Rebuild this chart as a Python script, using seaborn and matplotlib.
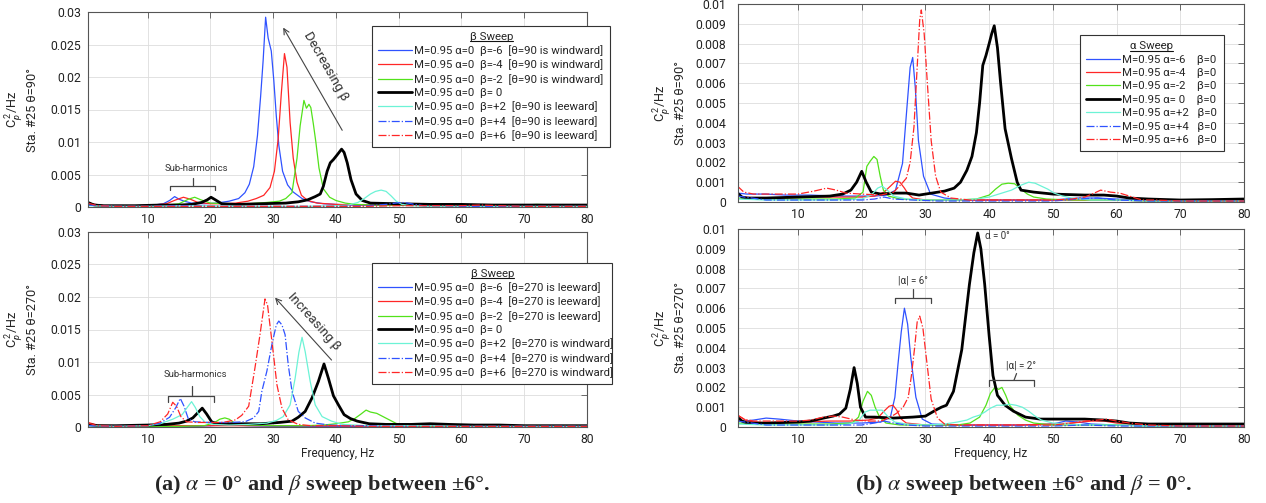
import matplotlib
matplotlib.use("Agg")
import matplotlib.pyplot as plt
from matplotlib.lines import Line2D
import seaborn as sns

# ---------------- DATA (values in units of 1e-3 Cp^2/Hz) ----------------
# Panel (a) top : theta = 90, beta sweep
a90_bm6_f = [0.5, 3, 8, 11, 12.5, 13.5, 14.3, 15.0, 15.8, 17, 19, 21, 23, 24.5, 25.5, 26.2, 26.9, 27.5, 28.0, 28.4, 28.8, 29.2, 29.7, 30.1, 30.5, 30.9, 31.5, 32.3, 33.2, 34.6, 36, 38, 42, 46, 50, 55, 60, 65, 70, 75, 80]
a90_bm6_v = [0.5, 0.2, 0.2, 0.3, 0.5, 1.0, 1.6, 1.2, 0.9, 0.6, 0.5, 0.6, 0.9, 1.3, 2.2, 3.5, 6.2, 11.0, 17.0, 22.5, 29.2, 26.0, 24.0, 19.5, 14.0, 9.5, 5.5, 3.4, 2.3, 1.3, 0.8, 0.5, 0.3, 0.3, 0.3, 0.2, 0.2, 0.2, 0.2, 0.2, 0.2]
a90_bm4_f = [0.5, 3, 8, 11, 13, 14.5, 15.7, 16.8, 18, 20, 22, 24, 26, 27.3, 28.5, 29.5, 30.2, 30.8, 31.3, 31.8, 32.2, 32.7, 33.2, 33.8, 34.5, 35.5, 37, 40, 45, 50, 55, 60, 65, 70, 75, 80]
a90_bm4_v = [0.6, 0.2, 0.2, 0.3, 0.5, 1.1, 1.5, 1.2, 0.7, 0.5, 0.5, 0.6, 0.9, 1.3, 1.8, 3.0, 5.5, 10.5, 17.5, 23.6, 21.5, 13.0, 7.5, 3.8, 1.8, 1.0, 0.6, 0.4, 0.3, 0.3, 0.3, 0.3, 0.3, 0.2, 0.2, 0.2]
a90_bm2_f = [0.5, 3, 8, 12, 15, 16.5, 17.5, 18.5, 20, 23, 26, 29, 31, 32, 33, 33.8, 34.3, 34.9, 35.3, 35.7, 36.0, 36.4, 36.8, 37.3, 38.0, 39.0, 40.0, 41.5, 43, 46, 50, 55, 60, 65, 70, 72, 75, 80]
a90_bm2_v = [0.3, 0.2, 0.2, 0.2, 0.5, 1.2, 1.5, 1.1, 0.6, 0.5, 0.5, 0.7, 0.9, 1.3, 2.2, 7.5, 12.5, 16.4, 15.2, 15.8, 15.3, 12.8, 10.0, 6.0, 2.8, 1.5, 1.0, 0.6, 0.4, 0.3, 0.3, 0.3, 0.3, 0.3, 0.3, 0.4, 0.3, 0.2]
a90_b0_f = [0.5, 1.5, 3, 8, 12, 15, 17, 18.6, 19.5, 20.1, 20.8, 21.8, 24, 28, 32, 34, 35.5, 36.7, 37.5, 38.0, 38.6, 39.1, 39.6, 40.1, 40.5, 40.9, 41.3, 41.8, 42.4, 43.2, 44.2, 45.5, 50, 55, 60, 65, 70, 75, 80]
a90_b0_v = [0.7, 0.3, 0.2, 0.2, 0.3, 0.3, 0.4, 0.7, 1.1, 1.5, 1.1, 0.5, 0.4, 0.5, 0.6, 0.8, 1.1, 1.6, 2.0, 3.2, 5.5, 6.8, 7.3, 7.9, 8.4, 8.9, 8.4, 6.8, 4.2, 2.0, 1.0, 0.6, 0.5, 0.4, 0.4, 0.3, 0.3, 0.3, 0.3]
a90_bp2_f = [0.5, 5, 10, 15, 20, 25, 30, 35, 40, 42, 43.5, 44.5, 45.5, 46.3, 47.2, 48.0, 48.8, 49.6, 50.5, 52, 55, 60, 65, 70, 75, 80]
a90_bp2_v = [0.2, 0.1, 0.1, 0.2, 0.2, 0.1, 0.1, 0.1, 0.2, 0.3, 0.7, 1.3, 2.0, 2.4, 2.6, 2.4, 1.7, 0.9, 0.4, 0.2, 0.1, 0.1, 0.1, 0.1, 0.1, 0.1]
a90_bp4_f = [0.5, 5, 10, 15, 20, 25, 30, 35, 40, 45, 48, 49.5, 50.5, 51.5, 52.5, 54, 57, 60, 65, 70, 75, 80]
a90_bp4_v = [0.3, 0.1, 0.1, 0.2, 0.1, 0.1, 0.1, 0.1, 0.1, 0.2, 0.4, 0.6, 0.7, 0.6, 0.4, 0.2, 0.2, 0.1, 0.1, 0.1, 0.1, 0.1]
a90_bp6_f = [0.5, 2, 5, 10, 15, 20, 25, 30, 35, 40, 45, 50, 55, 60, 63, 66, 70, 75, 80]
a90_bp6_v = [0.6, 0.2, 0.1, 0.1, 0.1, 0.1, 0.1, 0.1, 0.1, 0.1, 0.1, 0.2, 0.2, 0.2, 0.3, 0.2, 0.1, 0.1, 0.1]

# Panel (a) bottom : theta = 270, beta sweep
a270_bm6_f = [0.5, 5, 10, 15, 18, 20, 22, 24, 26, 30, 35, 40, 45, 50, 55, 60, 65, 70, 75, 80]
a270_bm6_v = [0.3, 0.1, 0.1, 0.1, 0.1, 0.2, 0.3, 0.3, 0.2, 0.1, 0.1, 0.1, 0.1, 0.1, 0.1, 0.1, 0.1, 0.1, 0.1, 0.1]
a270_bm4_f = [0.5, 2, 5, 10, 15, 20, 25, 30, 35, 40, 45, 50, 53, 56, 60, 65, 70, 75, 80]
a270_bm4_v = [0.7, 0.3, 0.2, 0.2, 0.2, 0.2, 0.2, 0.2, 0.2, 0.2, 0.2, 0.2, 0.3, 0.3, 0.2, 0.2, 0.2, 0.2, 0.2]
a270_bm2_f = [0.5, 5, 10, 15, 19, 20.5, 21.5, 22.3, 23, 24, 26, 30, 35, 38, 40, 42, 43, 44, 44.8, 45.5, 46.5, 47.5, 48.5, 49.5, 50.5, 55, 60, 65, 70, 75, 80]
a270_bm2_v = [0.2, 0.1, 0.1, 0.1, 0.2, 0.6, 1.2, 1.4, 1.2, 0.5, 0.3, 0.2, 0.2, 0.3, 0.5, 0.8, 1.3, 2.0, 2.6, 2.3, 2.1, 1.6, 1.1, 0.6, 0.2, 0.1, 0.1, 0.1, 0.1, 0.1, 0.1]
a270_b0_f = [0.5, 2, 5, 10, 13, 15, 16.2, 17.2, 18.0, 18.7, 19.4, 20.2, 21, 24, 28, 31, 33, 34, 35.1, 36.2, 37.2, 38.1, 38.8, 39.6, 40.4, 41.3, 42.3, 43.4, 45.3, 48, 52, 55, 58, 62, 66, 70, 75, 80]
a270_b0_v = [0.4, 0.2, 0.2, 0.3, 0.4, 0.6, 0.9, 1.4, 2.2, 2.9, 2.0, 0.8, 0.5, 0.5, 0.5, 0.7, 0.9, 1.5, 2.4, 4.5, 7.0, 9.7, 7.5, 4.8, 3.4, 1.9, 1.3, 0.9, 0.5, 0.4, 0.4, 0.5, 0.4, 0.3, 0.3, 0.2, 0.2, 0.2]
a270_bp2_f = [0.5, 5, 10, 12, 14, 15.5, 16.3, 17.0, 17.6, 18.3, 19.2, 20.5, 23, 26, 29, 30.5, 31.6, 32.7, 33.5, 34.1, 34.6, 35.1, 35.9, 36.7, 37.8, 39.3, 41, 45, 50, 55, 60, 65, 70, 75, 80]
a270_bp2_v = [0.2, 0.1, 0.2, 0.5, 1.2, 1.9, 3.0, 3.9, 3.0, 1.6, 0.7, 0.4, 0.3, 0.4, 0.6, 1.0, 1.6, 3.4, 7.5, 11.5, 13.8, 11.6, 7.0, 3.4, 1.6, 0.9, 0.4, 0.2, 0.2, 0.2, 0.1, 0.1, 0.1, 0.1, 0.1]
a270_bp4_f = [0.5, 5, 10, 12, 13.5, 14.5, 15.2, 15.8, 16.5, 17.5, 20, 23, 25.5, 26.9, 27.7, 28.2, 29.0, 29.8, 30.5, 30.9, 31.4, 31.9, 32.4, 33.0, 34.0, 35.1, 36.7, 39, 42, 45, 50, 55, 60, 65, 70, 75, 80]
a270_bp4_v = [0.2, 0.1, 0.2, 0.6, 1.5, 3.0, 4.4, 3.2, 1.2, 0.8, 0.7, 0.7, 0.8, 1.4, 2.4, 5.5, 8.6, 12.7, 15.7, 16.3, 15.7, 14.2, 9.6, 5.5, 2.4, 1.4, 0.6, 0.3, 0.2, 0.2, 0.1, 0.1, 0.1, 0.1, 0.1, 0.1, 0.1]
a270_bp6_f = [0.5, 2, 5, 10, 12, 13.2, 14.0, 14.6, 15.3, 16.2, 18, 20, 22, 24, 25, 26.1, 27.1, 27.9, 28.7, 29.1, 29.8, 30.6, 31.4, 32.4, 34.0, 36, 40, 45, 50, 55, 60, 65, 70, 75, 80]
a270_bp6_v = [0.6, 0.2, 0.1, 0.2, 0.8, 2.0, 3.8, 3.2, 1.6, 0.8, 0.7, 0.7, 0.7, 1.1, 1.8, 3.2, 9.1, 14.2, 19.7, 18.8, 13.2, 6.5, 2.9, 1.1, 0.4, 0.2, 0.2, 0.1, 0.1, 0.1, 0.1, 0.1, 0.1, 0.1, 0.1]

# Panel (b) top : theta = 90, alpha sweep
b90_am6_f = [0.5, 2, 5, 8, 12, 16, 20, 22, 24, 25.3, 26.4, 27.1, 27.6, 28.0, 28.4, 28.9, 29.7, 30.8, 33, 36, 40, 45, 50, 54, 57, 60, 63, 66, 70, 75, 80]
b90_am6_v = [0.45, 0.4, 0.4, 0.35, 0.35, 0.3, 0.3, 0.3, 0.35, 0.6, 1.95, 4.8, 6.8, 7.3, 5.8, 3.1, 1.3, 0.4, 0.2, 0.1, 0.1, 0.1, 0.1, 0.2, 0.2, 0.15, 0.1, 0.05, 0.05, 0.05, 0.05]
b90_am4_f = [0.5, 3, 8, 12, 16, 20, 22, 23.5, 24.5, 25.3, 26.0, 26.7, 27.3, 28, 30, 35, 40, 45, 50, 55, 60, 65, 70, 75, 80]
b90_am4_v = [0.3, 0.2, 0.2, 0.25, 0.25, 0.25, 0.3, 0.5, 0.8, 1.05, 1.0, 0.7, 0.4, 0.2, 0.1, 0.1, 0.1, 0.1, 0.1, 0.1, 0.1, 0.05, 0.05, 0.05, 0.05]
b90_am2_f = [0.5, 3, 8, 12, 16, 19, 20.2, 20.8, 21.3, 21.9, 22.4, 22.9, 23.4, 24.2, 26, 30, 35, 38, 40, 41, 42, 43, 44, 45, 46, 47, 49, 53, 60, 65, 70, 75, 80]
b90_am2_v = [0.2, 0.15, 0.15, 0.15, 0.15, 0.2, 0.5, 1.8, 2.05, 2.3, 2.15, 1.3, 0.6, 0.3, 0.15, 0.1, 0.1, 0.15, 0.35, 0.65, 0.9, 0.95, 0.92, 0.65, 0.4, 0.25, 0.15, 0.1, 0.1, 0.05, 0.05, 0.05, 0.05]
b90_a0_f = [0.5, 1.2, 2, 5, 10, 15, 17, 18.3, 19.2, 20.0, 20.7, 21.5, 23, 25, 27, 29, 31, 33, 34.5, 35.5, 36.5, 37.3, 38.0, 38.5, 39.0, 39.5, 40.0, 40.4, 40.8, 41.3, 41.8, 42.5, 43.5, 44.4, 45.0, 47, 50, 55, 58, 60, 62, 65, 70, 75, 80]
b90_a0_v = [0.45, 0.25, 0.2, 0.2, 0.25, 0.3, 0.4, 0.6, 1.0, 1.55, 1.0, 0.5, 0.4, 0.45, 0.45, 0.35, 0.45, 0.55, 0.7, 1.0, 1.6, 2.3, 3.5, 5.0, 6.9, 7.4, 8.0, 8.5, 8.9, 7.8, 6.0, 3.7, 2.2, 1.0, 0.6, 0.5, 0.4, 0.35, 0.35, 0.3, 0.2, 0.15, 0.1, 0.12, 0.15]
b90_ap2_f = [0.5, 5, 10, 15, 20, 21.5, 22.5, 23.2, 24, 25, 27, 30, 35, 38, 40, 42, 43.5, 45, 46.2, 47.2, 48.2, 49.2, 50.2, 51.5, 53, 56, 60, 65, 70, 75, 80]
b90_ap2_v = [0.15, 0.1, 0.1, 0.1, 0.15, 0.35, 0.7, 0.8, 0.6, 0.3, 0.15, 0.1, 0.1, 0.15, 0.25, 0.45, 0.6, 0.85, 1.0, 0.95, 0.8, 0.65, 0.45, 0.3, 0.2, 0.1, 0.1, 0.05, 0.05, 0.05, 0.05]
b90_ap4_f = [0.5, 5, 10, 15, 20, 22, 23.5, 25, 28, 32, 40, 50, 54, 57, 60, 65, 70, 75, 80]
b90_ap4_v = [0.3, 0.1, 0.1, 0.1, 0.1, 0.15, 0.25, 0.15, 0.1, 0.05, 0.05, 0.05, 0.15, 0.2, 0.1, 0.05, 0.05, 0.05, 0.05]
b90_ap6_f = [0.5, 1.5, 3, 6, 10, 12.5, 14.5, 16, 17.5, 20, 23, 25, 26.2, 27.0, 27.6, 28.2, 28.7, 29.1, 29.35, 29.8, 30.3, 30.9, 31.6, 32.4, 34, 37, 40, 45, 50, 53, 55, 56.5, 57.5, 59, 60.5, 62, 64, 66, 70, 75, 80]
b90_ap6_v = [0.8, 0.5, 0.4, 0.4, 0.4, 0.55, 0.7, 0.6, 0.45, 0.4, 0.35, 0.5, 0.9, 1.2, 2.0, 3.8, 6.8, 9.2, 9.7, 8.5, 6.0, 3.1, 1.3, 0.5, 0.2, 0.1, 0.1, 0.1, 0.1, 0.15, 0.25, 0.45, 0.6, 0.5, 0.45, 0.3, 0.1, 0.1, 0.05, 0.05, 0.05]

# Panel (b) bottom : theta = 270, alpha sweep
b270_am6_f = [0.5, 1.5, 3, 5, 7, 10, 13, 16, 20, 23, 24.5, 25.2, 25.7, 26.2, 26.7, 27.2, 27.7, 28.5, 29.5, 31, 35, 40, 45, 50, 52, 54, 56, 60, 65, 70, 75, 80]
b270_am6_v = [0.4, 0.3, 0.35, 0.45, 0.4, 0.3, 0.25, 0.2, 0.2, 0.25, 0.5, 1.5, 3.2, 4.8, 6.0, 5.2, 3.5, 1.5, 0.4, 0.15, 0.1, 0.1, 0.1, 0.15, 0.3, 0.25, 0.15, 0.1, 0.05, 0.05, 0.05, 0.05]
b270_am4_f = [0.5, 2, 5, 10, 15, 18, 21, 22.5, 23.5, 24.3, 24.9, 25.5, 26.2, 27, 30, 35, 40, 45, 50, 53, 56, 58, 60, 65, 70, 75, 80]
b270_am4_v = [0.6, 0.3, 0.2, 0.25, 0.3, 0.3, 0.35, 0.45, 0.8, 1.05, 1.1, 0.85, 0.4, 0.2, 0.1, 0.1, 0.1, 0.1, 0.15, 0.2, 0.3, 0.3, 0.2, 0.1, 0.05, 0.05, 0.05]
b270_am2_f = [0.5, 5, 10, 15, 18.5, 19.5, 20.2, 20.9, 21.5, 22.1, 22.8, 23.8, 26, 30, 35, 37, 38.5, 39.5, 40.2, 40.9, 41.5, 42.0, 42.6, 43.2, 44.5, 45.7, 47, 50, 55, 60, 65, 70, 75, 80]
b270_am2_v = [0.2, 0.15, 0.15, 0.15, 0.2, 0.5, 1.3, 1.8, 1.6, 1.0, 0.5, 0.2, 0.1, 0.1, 0.1, 0.2, 0.5, 1.1, 1.7, 2.0, 1.9, 2.0, 1.6, 1.1, 0.6, 0.35, 0.2, 0.1, 0.1, 0.1, 0.05, 0.05, 0.05, 0.05]
b270_a0_f = [0.5, 1.2, 2, 5, 10, 12, 14, 15.5, 16.5, 17.5, 18.2, 18.8, 19.3, 19.8, 20.6, 22, 25, 28, 30, 31.6, 32.5, 33.3, 34.4, 35.7, 36.9, 37.6, 38.2, 38.7, 39.3, 40.0, 40.6, 41.3, 42.5, 43.8, 45.7, 48, 52, 55, 58, 60, 62, 65, 70, 75, 80]
b270_a0_v = [0.5, 0.3, 0.2, 0.2, 0.25, 0.3, 0.45, 0.55, 0.65, 0.95, 1.9, 3.0, 2.2, 1.0, 0.5, 0.5, 0.45, 0.5, 0.55, 0.85, 1.0, 1.1, 1.8, 3.9, 7.2, 8.8, 9.8, 9.0, 7.2, 4.6, 2.6, 1.6, 1.1, 0.8, 0.5, 0.4, 0.4, 0.4, 0.35, 0.3, 0.2, 0.15, 0.15, 0.15, 0.15]
b270_ap2_f = [0.5, 5, 10, 15, 18, 19.5, 20.5, 21.3, 22.2, 23.2, 24.2, 25.2, 27, 30, 33, 35, 36.5, 37.5, 38.5, 39.3, 40.2, 41.2, 42.2, 43.2, 44.2, 45.2, 46.2, 47.2, 48.2, 50, 55, 60, 65, 70, 75, 80]
b270_ap2_v = [0.15, 0.1, 0.1, 0.1, 0.15, 0.3, 0.75, 0.85, 0.85, 0.85, 0.5, 0.25, 0.15, 0.1, 0.15, 0.25, 0.35, 0.5, 0.6, 0.75, 0.95, 1.1, 1.1, 1.15, 1.1, 1.0, 0.8, 0.55, 0.35, 0.2, 0.1, 0.1, 0.05, 0.05, 0.05, 0.05]
b270_ap4_f = [0.5, 5, 10, 15, 20, 22, 23.5, 25, 27, 30, 40, 50, 55, 60, 70, 80]
b270_ap4_v = [0.3, 0.1, 0.1, 0.1, 0.1, 0.2, 0.3, 0.2, 0.1, 0.05, 0.05, 0.05, 0.1, 0.05, 0.05, 0.05]
b270_ap6_f = [0.5, 1.5, 3, 6, 10, 12, 14, 15.5, 17, 19, 21, 23, 24.5, 25.5, 26.5, 27.3, 27.8, 28.3, 28.7, 29.1, 29.6, 30.1, 30.9, 31.9, 33, 35, 40, 45, 50, 53, 55, 57, 58.5, 60, 62, 65, 70, 75, 80]
b270_ap6_v = [0.6, 0.4, 0.3, 0.3, 0.3, 0.35, 0.5, 0.55, 0.5, 0.35, 0.3, 0.3, 0.5, 0.7, 1.0, 1.5, 2.6, 4.0, 5.3, 5.6, 5.0, 3.6, 1.4, 0.45, 0.15, 0.1, 0.1, 0.1, 0.1, 0.2, 0.3, 0.35, 0.4, 0.3, 0.2, 0.1, 0.05, 0.05, 0.05]

# Legend labels
labels_a90 = ["M=0.95 α=0  β=-6  [θ=90 is windward]", "M=0.95 α=0  β=-4  [θ=90 is windward]",
              "M=0.95 α=0  β=-2  [θ=90 is windward]", "M=0.95 α=0  β= 0",
              "M=0.95 α=0  β=+2  [θ=90 is leeward]", "M=0.95 α=0  β=+4  [θ=90 is leeward]",
              "M=0.95 α=0  β=+6  [θ=90 is leeward]"]
labels_a270 = ["M=0.95 α=0  β=-6  [θ=270 is leeward]", "M=0.95 α=0  β=-4  [θ=270 is leeward]",
               "M=0.95 α=0  β=-2  [θ=270 is leeward]", "M=0.95 α=0  β= 0",
               "M=0.95 α=0  β=+2  [θ=270 is windward]", "M=0.95 α=0  β=+4  [θ=270 is windward]",
               "M=0.95 α=0  β=+6  [θ=270 is windward]"]
labels_b = ["M=0.95 α=-6    β=0", "M=0.95 α=-4    β=0", "M=0.95 α=-2    β=0", "M=0.95 α= 0    β=0",
            "M=0.95 α=+2   β=0", "M=0.95 α=+4   β=0", "M=0.95 α=+6   β=0"]

xticks = [10, 20, 30, 40, 50, 60, 70, 80]
yticks_a = [0, 5, 10, 15, 20, 25, 30]
yticklabels_a = ["0", "0.005", "0.01", "0.015", "0.02", "0.025", "0.03"]
yticks_b = [0, 1, 2, 3, 4, 5, 6, 7, 8, 9, 10]
yticklabels_b = ["0", "0.001", "0.002", "0.003", "0.004", "0.005", "0.006", "0.007", "0.008", "0.009", "0.01"]

# ---------------- STYLE ----------------
sns.set_style("white")
plt.rcParams['font.family'] = ['Roboto', 'DejaVu Sans']
plt.rcParams['mathtext.fontset'] = 'custom'
plt.rcParams['mathtext.rm'] = 'Roboto'
plt.rcParams['mathtext.it'] = 'Roboto:italic'

BLUE = '#2f52ff'
RED = '#ff2626'
GREEN = '#52e21a'
CYAN = '#6cf3d6'
styles = [('-', BLUE, 0.9), ('-', RED, 0.9), ('-', GREEN, 0.9), ('-', 'black', 2.0),
          ('-', CYAN, 0.9), ('-.', BLUE, 0.9), ('-.', RED, 0.9)]

W, H = 1266, 503
fig = plt.figure(figsize=(12.66, 5.03), dpi=100)


def make_axes(l, r, t, b):
    return fig.add_axes([l / W, 1 - b / H, (r - l) / W, (b - t) / H])


axA1 = make_axes(88, 587, 12, 207)
axA2 = make_axes(88, 587, 232, 427)
axB1 = make_axes(737.5, 1244, 4, 202)
axB2 = make_axes(737.5, 1244, 229, 427)

panels = [
    (axA1, [(a90_bm6_f, a90_bm6_v), (a90_bm4_f, a90_bm4_v), (a90_bm2_f, a90_bm2_v), (a90_b0_f, a90_b0_v),
            (a90_bp2_f, a90_bp2_v), (a90_bp4_f, a90_bp4_v), (a90_bp6_f, a90_bp6_v)], labels_a90),
    (axA2, [(a270_bm6_f, a270_bm6_v), (a270_bm4_f, a270_bm4_v), (a270_bm2_f, a270_bm2_v), (a270_b0_f, a270_b0_v),
            (a270_bp2_f, a270_bp2_v), (a270_bp4_f, a270_bp4_v), (a270_bp6_f, a270_bp6_v)], labels_a270),
    (axB1, [(b90_am6_f, b90_am6_v), (b90_am4_f, b90_am4_v), (b90_am2_f, b90_am2_v), (b90_a0_f, b90_a0_v),
            (b90_ap2_f, b90_ap2_v), (b90_ap4_f, b90_ap4_v), (b90_ap6_f, b90_ap6_v)], labels_b),
    (axB2, [(b270_am6_f, b270_am6_v), (b270_am4_f, b270_am4_v), (b270_am2_f, b270_am2_v), (b270_a0_f, b270_a0_v),
            (b270_ap2_f, b270_ap2_v), (b270_ap4_f, b270_ap4_v), (b270_ap6_f, b270_ap6_v)], labels_b),
]

for ax, series, labs in panels:
    for (f, v), (ls, col, lw), lab in zip(series, styles, labs):
        sns.lineplot(x=f, y=v, ax=ax, color=col, linestyle=ls, linewidth=lw, label=lab,
                     estimator=None, sort=False, clip_on=True)

for ax, yt, ytl, pad in [(axA1, yticks_a, yticklabels_a, 5), (axA2, yticks_a, yticklabels_a, 5),
                         (axB1, yticks_b, yticklabels_b, 8), (axB2, yticks_b, yticklabels_b, 8)]:
    ax.set_xlim(0.5, 80)
    ax.set_ylim(yt[0], yt[-1])
    ax.set_xticks(xticks)
    ax.set_xticklabels([str(t) for t in xticks])
    ax.set_yticks(yt)
    ax.set_yticklabels(ytl)
    ax.grid(True, color='#dddddd', linewidth=0.6)
    ax.set_axisbelow(True)
    ax.tick_params(axis='both', direction='in', top=True, right=True, length=4, width=0.6,
                   color='#555555', labelsize=8.8, labelcolor='#222222')
    ax.tick_params(axis='y', pad=pad)
    ax.tick_params(axis='x', pad=4)
    for s in ax.spines.values():
        s.set_color('#555555')
        s.set_linewidth(0.8)
    ax.set_xlabel("")

axA1.set_ylabel("C$_p^{\\,2}$/Hz\nSta. #25 θ=90°", fontsize=9.2, labelpad=8, linespacing=1.1)
axA2.set_ylabel("C$_p^{\\,2}$/Hz\nSta. #25 θ=270°", fontsize=9.2, labelpad=8, linespacing=1.1)
axB1.set_ylabel("C$_p^{\\,2}$/Hz\nSta. #25 θ=90°", fontsize=9.2, labelpad=6, linespacing=1.1)
axB2.set_ylabel("C$_p^{\\,2}$/Hz\nSta. #25 θ=270°", fontsize=9.2, labelpad=6, linespacing=1.1)
axA2.set_xlabel("Frequency, Hz", fontsize=8.5, labelpad=1)
axB2.set_xlabel("Frequency, Hz", fontsize=8.5, labelpad=1)

# ---------------- LEGENDS ----------------
legends = []
for ax, title, bb in [(axA1, "β Sweep", (0.569, 0.20, 0.478, 0.728)),
                      (axA2, "β Sweep", (0.569, 0.10, 0.482, 0.741)),
                      (axB1, "α Sweep", (0.676, 0.10, 0.284, 0.741)),
                      (axB2, None, None)]:
    if title is None:
        lg = ax.get_legend()
        if lg is not None:
            lg.remove()
        continue
    h, l = ax.get_legend_handles_labels()
    lg = ax.legend(h, l, title=title, loc='upper left', bbox_to_anchor=bb, mode='expand',
                   fontsize=8.2, title_fontsize=8.2, frameon=True, fancybox=False, framealpha=1,
                   edgecolor='#333333', borderpad=0.5, labelspacing=0.3, handlelength=3.0,
                   handletextpad=0.2, borderaxespad=0, alignment='center')
    lg.get_frame().set_linewidth(0.8)
    lg.set_clip_on(False)
    legends.append(lg)

# ---------------- ANNOTATIONS ----------------
GRAY = '#444444'
bk = dict(color=GRAY, lw=0.9, clip_on=False)

# (a) top
axA1.plot([13.6, 13.6, 20.8, 20.8], [2.6, 3.3, 3.3, 2.6], **bk)
axA1.plot([17.2, 17.2], [3.3, 4.5], **bk)
axA1.text(17.8, 5.9, "Sub-harmonics", fontsize=6.8, ha='center', va='center', color='#333333')
axA1.annotate("", xy=(31.6, 27.6), xytext=(41.0, 11.8),
              arrowprops=dict(arrowstyle='->', color=GRAY, lw=0.8, shrinkA=0, shrinkB=0))
axA1.text(38.4, 21.6, "Decreasing β", fontsize=9.5, rotation=-60, ha='center', va='center',
          rotation_mode='anchor', color='#333333')

# (a) bottom
axA2.plot([13.3, 13.3, 20.6, 20.6], [3.9, 4.8, 4.8, 3.9], **bk)
axA2.plot([17.1, 17.1], [4.8, 6.3], **bk)
axA2.text(17.6, 8.1, "Sub-harmonics", fontsize=6.8, ha='center', va='center', color='#333333')
axA2.annotate("", xy=(30.3, 19.9), xytext=(39.3, 10.3),
              arrowprops=dict(arrowstyle='->', color=GRAY, lw=0.8, shrinkA=0, shrinkB=0))
axA2.text(36.5, 16.3, "Increasing β", fontsize=9.5, rotation=-48, ha='center', va='center',
          rotation_mode='anchor', color='#333333')

# (b) bottom
axB2.text(41.3, 9.65, "α = 0°", fontsize=7, ha='center', va='center', color='#333333')
axB2.plot([25.2, 25.2, 30.9, 30.9], [6.25, 6.5, 6.5, 6.25], **bk)
axB2.plot([28.0, 28.0], [6.5, 6.95], **bk)
axB2.text(28.0, 7.4, "|α| = 6°", fontsize=7, ha='center', va='center', color='#333333')
axB2.plot([39.9, 39.9, 47.0, 47.0], [2.07, 2.36, 2.36, 2.07], **bk)
axB2.plot([43.9, 44.3], [2.36, 2.7], **bk)
axB2.text(45.0, 3.1, "|α| = 2°", fontsize=7, ha='center', va='center', color='#333333')

# ---------------- CAPTIONS ----------------
fig.text(322 / W, 1 - 485 / H, "(a) $\\alpha$ = 0° and $\\beta$ sweep between ±6°.", ha='center', va='center',
         fontsize=16, fontweight='bold', family='Liberation Serif', math_fontfamily='stix')
fig.text(1024 / W, 1 - 485 / H, "(b) $\\alpha$ sweep between ±6° and $\\beta$ = 0°.", ha='center', va='center',
         fontsize=16, fontweight='bold', family='Liberation Serif', math_fontfamily='stix')

# underline legend titles
fig.canvas.draw()
renderer = fig.canvas.get_renderer()
inv = fig.transFigure.inverted()
for lg in legends:
    bbox = lg.get_title().get_window_extent(renderer)
    x0, y0 = inv.transform((bbox.x0, bbox.y0 + 0.5))
    x1, _ = inv.transform((bbox.x1, bbox.y0 + 0.5))
    fig.add_artist(Line2D([x0, x1], [y0, y0], transform=fig.transFigure, color='#111111', lw=0.8, zorder=10))

fig.savefig("out.png", dpi=100)
